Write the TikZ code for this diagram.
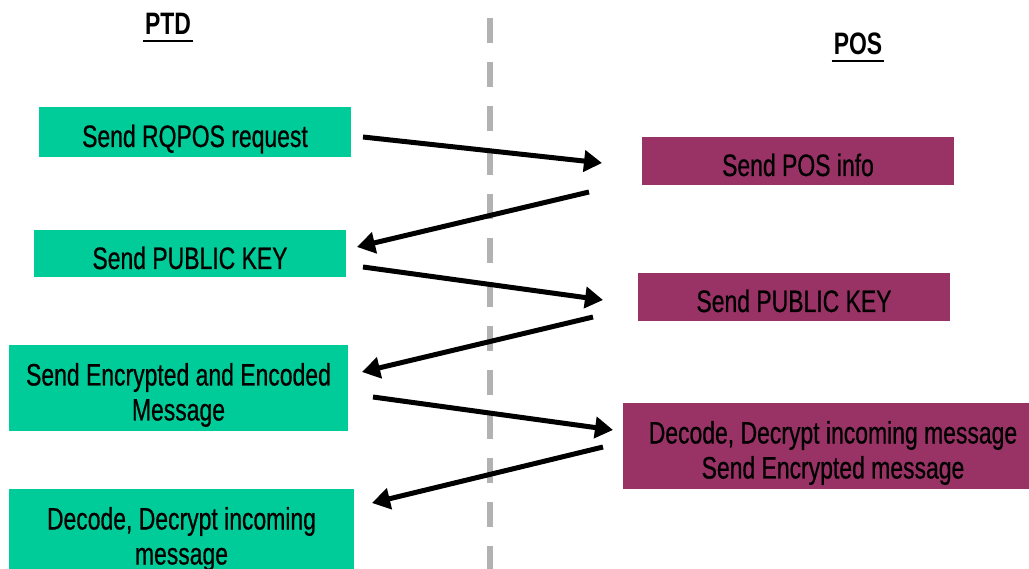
\documentclass[tikz,border=0pt]{standalone}
\usepackage{fontspec}
\setmainfont{Liberation Sans}[FakeStretch=0.74, UprightFeatures={FakeBold=0.6}]
\usetikzlibrary{arrows.meta}
\definecolor{ptdgreen}{RGB}{0,204,153}
\definecolor{pospurple}{RGB}{153,51,102}
\newcommand\hstrut{\rule{0pt}{37pt}}
\newcommand\dstrut{\rule[-7pt]{0pt}{7pt}}
\tikzset{
  box/.style={inner sep=0pt, outer sep=0pt, align=center, text=black,
    font=\fontsize{31}{35}\selectfont},
  ptdbox/.style={box, fill=ptdgreen},
  posbox/.style={box, fill=pospurple},
  arr/.style={line width=5pt, -{Triangle[length=18pt,width=21pt]}},
  header/.style={font=\fontsize{31}{35}\selectfont\bfseries, inner sep=0pt, anchor=base},
}
\begin{document}
\begin{tikzpicture}[x=1pt,y=-1pt]
\useasboundingbox (0,0) rectangle (1029,569);
\clip (0,0) rectangle (1029,569);
\fill[white] (0,0) rectangle (1029,569);
% separator
\draw[black!30, line width=6pt, dash pattern=on 25pt off 19pt] (490,18) -- (490,580);
% headers
\node[header] (ptd) at (168,35) {PTD};
\draw[line width=2pt] ([shift={(-2,6)}]ptd.base west) -- ([shift={(2,6)}]ptd.base east);
\node[header] (pos) at (858,55) {POS};
\draw[line width=2pt] ([shift={(-2,6)}]pos.base west) -- ([shift={(2,6)}]pos.base east);
% boxes
\node[ptdbox, minimum width=312pt, minimum height=50pt] (a1) at (195,132) {\hstrut Send RQPOS request\dstrut};
\node[posbox, minimum width=312pt, minimum height=48pt] (b1) at (798,161) {\hstrut Send POS info\dstrut};
\node[ptdbox, minimum width=312pt, minimum height=47pt] (a2) at (190,254) {\hstrut Send PUBLIC KEY\dstrut};
\node[posbox, minimum width=312pt, minimum height=48pt] (b2) at (794,297) {\hstrut Send PUBLIC KEY\dstrut};
\node[ptdbox, minimum width=339pt, minimum height=86pt] (a3) at (178.5,388) {\hstrut Send Encrypted and Encoded\\Message\dstrut};
\node[posbox, minimum width=420pt, minimum height=86pt] (b3) at (833,446) {\hstrut Decode, Decrypt incoming message\\Send Encrypted message\dstrut};
\node[ptdbox, minimum width=345pt, minimum height=86pt] (a4) at (181.5,532) {\hstrut Decode, Decrypt incoming\\message\dstrut};
% arrows
\draw[arr] ([shift={(12,5)}]a1.east) -- ([shift={(-40,2)}]b1.west);
\draw[arr] ([shift={(-53,31)}]b1.west) -- ([shift={(11,-7)}]a2.east);
\draw[arr] ([shift={(17,13)}]a2.east) -- ([shift={(-35,3)}]b2.west);
\draw[arr] ([shift={(-45,20)}]b2.west) -- ([shift={(14,-16)}]a3.east);
\draw[arr] ([shift={(25,9)}]a3.east) -- ([shift={(-10,-16)}]b3.west);
\draw[arr] ([shift={(-20,1)}]b3.west) -- ([shift={(18,-29)}]a4.east);
\end{tikzpicture}
\end{document}
